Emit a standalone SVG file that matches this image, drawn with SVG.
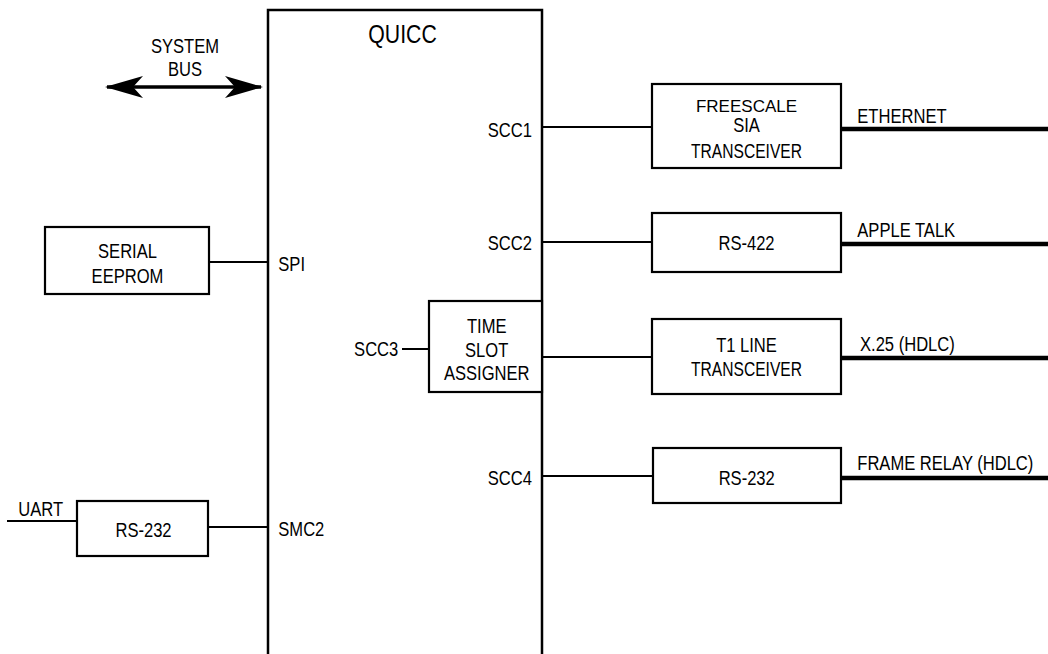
<svg xmlns="http://www.w3.org/2000/svg" width="1048" height="654" viewBox="0 0 1048 654">
<style>
  .box { fill: #fff; stroke: #000; stroke-width: 2.2; }
  .ln { stroke: #000; stroke-width: 2; fill: none; }
  .thick { stroke: #000; stroke-width: 4.5; fill: none; }
  .quicc { stroke: #000; stroke-width: 2.5; fill: none; }
  text { font-family: "Liberation Sans", Arial, Helvetica, sans-serif; font-size: 19.5px; fill: #000; }
  .big { font-size: 25px; }
  .sm { font-size: 17px; }
  .mid { text-anchor: middle; }
  .end { text-anchor: end; }
</style>
<defs>
  <marker id="ah" viewBox="0 -11 38 22" refX="36" refY="0" markerWidth="38" markerHeight="22" markerUnits="userSpaceOnUse" orient="auto-start-reverse">
    <path d="M38,0 L0,-11 L10,0 L0,11 Z" fill="#000"/>
  </marker>
</defs>
<rect width="1048" height="654" fill="#fff"/>

<g id="quicc">
  <path class="quicc" d="M268,654 V10 H542 V654"/>
  <text class="big mid" transform="translate(402.5 42.7) scale(0.85 1)">QUICC</text>
  <text class="end" transform="translate(532 136.7) scale(0.85 1)">SCC1</text>
  <text class="end" transform="translate(532 249.5) scale(0.85 1)">SCC2</text>
  <text class="end" transform="translate(398.3 355.7) scale(0.85 1)">SCC3</text>
  <text class="end" transform="translate(532 485) scale(0.85 1)">SCC4</text>
  <text transform="translate(278.3 270.7) scale(0.85 1)">SPI</text>
  <text transform="translate(278.3 536) scale(0.85 1)">SMC2</text>
</g>

<g id="systembus">
  <text class="mid" transform="translate(185 53.3) scale(0.85 1)">SYSTEM</text>
  <text class="mid" transform="translate(185 76) scale(0.85 1)">BUS</text>
</g>

<g id="serial-eeprom">
  <rect class="box" x="45" y="227" width="164" height="67"/>
  <text class="mid" transform="translate(127.5 258.3) scale(0.85 1)">SERIAL</text>
  <text class="mid" transform="translate(127.5 282.7) scale(0.85 1)">EEPROM</text>
</g>

<g id="rs232-left">
  <rect class="box" x="77" y="501" width="131" height="55"/>
  <text class="mid" transform="translate(143.5 537) scale(0.85 1)">RS-232</text>
  <text transform="translate(18.3 515.7) scale(0.85 1)">UART</text>
</g>

<g id="tsa">
  <rect class="box" x="429" y="301" width="113" height="91"/>
  <text class="mid" transform="translate(486.7 333.3) scale(0.85 1)">TIME</text>
  <text class="mid" transform="translate(486.7 356.7) scale(0.85 1)">SLOT</text>
  <text class="mid" transform="translate(486.7 380) scale(0.85 1)">ASSIGNER</text>
</g>

<g id="freescale">
  <rect class="box" x="652" y="84" width="189" height="84"/>
  <text class="sm mid" x="746.5" y="111.7">FREESCALE</text>
  <text class="mid" transform="translate(746.5 132.3) scale(0.85 1)">SIA</text>
  <text class="mid" transform="translate(746.5 158.3) scale(0.8 1)">TRANSCEIVER</text>
  <text transform="translate(857.3 123.3) scale(0.85 1)">ETHERNET</text>
</g>

<g id="rs422">
  <rect class="box" x="652" y="213" width="189" height="59"/>
  <text class="mid" transform="translate(746.5 249.5) scale(0.85 1)">RS-422</text>
  <text transform="translate(857.3 237) scale(0.85 1)">APPLE TALK</text>
</g>

<g id="t1">
  <rect class="box" x="652" y="319" width="189" height="75"/>
  <text class="mid" transform="translate(746.5 352) scale(0.85 1)">T1 LINE</text>
  <text class="mid" transform="translate(746.5 376) scale(0.8 1)">TRANSCEIVER</text>
  <text transform="translate(860 350.7) scale(0.85 1)">X.25 (HDLC)</text>
</g>

<g id="rs232-right">
  <rect class="box" x="653" y="448" width="188" height="55"/>
  <text class="mid" transform="translate(746.7 485) scale(0.85 1)">RS-232</text>
  <text transform="translate(857.3 470) scale(0.85 1)">FRAME RELAY (HDLC)</text>
</g>

<g id="connectors">
  <line x1="107" y1="87" x2="261" y2="87" stroke="#000" stroke-width="3.5" marker-start="url(#ah)" marker-end="url(#ah)"/>
  <line class="ln" x1="209" y1="262" x2="268" y2="262"/>
  <line class="ln" x1="208" y1="527" x2="268" y2="527"/>
  <line class="ln" x1="7" y1="521" x2="77" y2="521"/>
  <line class="ln" x1="402" y1="349" x2="429" y2="349"/>
  <line class="ln" x1="542" y1="127" x2="652" y2="127"/>
  <line class="ln" x1="542" y1="242" x2="652" y2="242"/>
  <line class="ln" x1="542" y1="357" x2="652" y2="357"/>
  <line class="ln" x1="542" y1="476" x2="653" y2="476"/>
  <line class="thick" x1="841" y1="129" x2="1048" y2="129"/>
  <line class="thick" x1="841" y1="244" x2="1048" y2="244"/>
  <line class="thick" x1="841" y1="358" x2="1048" y2="358"/>
  <line class="thick" x1="841" y1="478" x2="1048" y2="478"/>
</g>
</svg>
